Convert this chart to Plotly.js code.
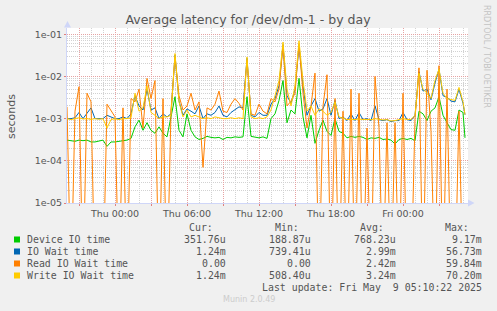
<!DOCTYPE html>
<html>
<head>
<meta charset="utf-8">
<script src="https://cdn.plot.ly/plotly-3.0.1.min.js"></script>
<style>
  html, body { margin: 0; padding: 0; background: #F0F0F0; }
  #chart { width: 497px; height: 311px; }
</style>
</head>
<body>
<div id="chart"></div>
<script>
// ---------------- DATA ----------------
// 20-minute samples from Wed 2025-05-07 20:00, plus the last sample at Fri 05:10
const sampleStart = '2025-05-07 20:00:00';
const sampleStepMinutes = 20;
const sampleCount = 100;
const lastSample = '2025-05-09 05:10:00';

const seriesNames = ['Device IO time', 'IO Wait time', 'Read IO Wait time', 'Write IO Wait time'];
const seriesColors = ['#00CC00', '#0066B3', '#FF8000', '#FFCC00'];

// seconds
const deviceIO = [
  3.1e-4, 3.0e-4, 2.9e-4, 3.1e-4, 3.0e-4, 3.1e-4, 2.8e-4, 2.8e-4, 2.9e-4, 3.1e-4,
  2.2e-4, 2.8e-4, 2.8e-4, 2.9e-4, 3.1e-4, 3.1e-4, 3.4e-4, 6.4e-4, 9.2e-4, 5.3e-4,
  8.0e-4, 5.3e-4, 4.5e-4, 6.4e-4, 4.5e-4, 3.7e-4, 1.1e-3, 3.3e-3, 5.3e-4, 3.7e-4,
  1.3e-3, 5.3e-4, 3.7e-4, 3.2e-4,
  3.4e-4, 3.8e-4, 3.6e-4, 3.5e-4, 3.6e-4, 3.2e-4,
  3.6e-4, 3.5e-4, 3.7e-4, 3.6e-4, 3.7e-4, 3.3e-3, 3.8e-4, 3.6e-4, 3.5e-4, 3.7e-4,
  3.4e-4, 1.0e-3, 1.3e-3, 2.7e-3, 8.0e-3, 8.0e-4, 1.6e-3, 1.3e-3, 9.0e-3, 1.1e-3,
  3.5e-4, 1.2e-3, 2.6e-4, 5.3e-4, 9.2e-4, 5.0e-4, 4.0e-4,
  1.0e-3, 5.0e-4, 4.5e-4, 3.5e-4, 3.8e-4, 3.6e-4, 3.8e-4, 3.6e-4, 3.2e-4, 3.5e-4,
  3.4e-4, 3.6e-4, 3.2e-4, 3.3e-4, 3.1e-4, 2.5e-4, 3.2e-4, 3.4e-4, 3.2e-4, 3.4e-4,
  3.0e-4, 1.5e-3, 1.3e-3, 9.0e-4, 1.5e-3, 1.8e-3, 3.3e-3, 1.2e-3, 8.0e-4, 5.5e-4,
  5.3e-4, 1.6e-3, 1.4e-3, 3.5e-4
];
const ioWait = [
  1.0e-3, 1.0e-3, 1.05e-3, 1.4e-3, 1.0e-3, 1.3e-3, 1.8e-3, 1.0e-3, 9.8e-4, 1.0e-3,
  1.2e-3, 1.1e-3, 1.0e-3, 1.0e-3, 1.1e-3, 1.0e-3, 1.3e-3, 3.5e-3, 2.0e-3, 1.6e-3,
  5.0e-3, 1.6e-3, 1.8e-3, 1.0e-3, 1.3e-3, 1.1e-3, 1.3e-3, 3.2e-2, 2.6e-3, 1.2e-3,
  1.7e-3, 1.5e-3, 1.3e-3, 2.0e-3,
  1.0e-3, 1.3e-3, 1.2e-3, 1.4e-3, 2.0e-3, 1.2e-3,
  1.1e-3, 1.4e-3, 1.6e-3, 1.9e-3, 1.8e-3, 2.7e-2, 1.2e-3, 1.1e-3, 1.4e-3, 1.2e-3,
  1.2e-3, 2.2e-3, 3.0e-3, 6.0e-3, 5.67e-2, 3.5e-3, 2.3e-3, 5.0e-3, 5.5e-2, 6.0e-3,
  1.2e-3, 2.0e-3, 3.0e-3, 1.5e-3, 1.7e-3, 3.0e-3, 1.2e-3,
  2.7e-3, 1.0e-3, 1.1e-3, 9.0e-4, 1.3e-3, 9.0e-4, 1.4e-3, 9.5e-4, 1.0e-3, 9.0e-4,
  2.0e-3, 9.5e-4, 9.0e-4, 9.5e-4, 8.5e-4, 9.0e-4, 9.0e-4, 1.4e-3, 9.5e-4, 9.0e-4,
  1.2e-3, 1.3e-2, 4.5e-3, 5.0e-3, 2.8e-3, 7.0e-3, 1.5e-2, 3.5e-3, 3.2e-3, 2.6e-3,
  2.5e-3, 5.0e-3, 2.3e-3, 1.24e-3
];
const readWait = [
  1.9e-3, 0, 1.5e-3, 5.7e-3, 0, 4.0e-3, 2.5e-3, 0, 0, 0,
  2.2e-3, 1.5e-3, 1.1e-3, 0, 1.8e-3, 0, 3.0e-3, 2.5e-3, 5.0e-3, 6.0e-4,
  9.0e-3, 3.0e-3, 8.0e-3, 0, 3.0e-3, 0, 1.6e-3, 3.0e-2, 3.5e-3, 1.6e-3,
  2.0e-3, 4.0e-3, 1.6e-3, 2.5e-3,
  7.0e-5, 1.8e-3, 1.6e-3, 2.2e-3, 4.5e-3, 1.5e-3,
  1.4e-3, 2.2e-3, 3.0e-3, 2.3e-3, 1.6e-3, 2.5e-2, 1.3e-3, 1.2e-3, 2.2e-3, 1.5e-3,
  1.3e-3, 3.0e-3, 2.5e-3, 5.0e-3, 5.5e-2, 2.0e-3, 2.6e-3, 4.0e-3, 5.98e-2, 4.0e-3,
  6.0e-4, 2.0e-3, 1.2e-2, 0, 2.0e-3, 1.1e-2, 0,
  3.0e-3, 0, 1.5e-3, 0, 5.0e-3, 0, 4.0e-3, 0, 6.0e-4, 0,
  1.0e-2, 6.0e-4, 0, 8.0e-4, 0, 8.0e-4, 0, 4.0e-3, 0, 0,
  1.0e-3, 1.6e-2, 0, 1.4e-2, 5.0e-4, 0, 1.8e-2, 0, 5.0e-3, 0,
  0, 1.5e-3, 0, 0
];
const writeWait = [
  1.0e-3, 9.5e-4, 1.0e-3, 1.05e-3, 9.8e-4, 1.0e-3, 9.6e-4, 1.0e-3, 9.7e-4, 1.0e-3,
  6.0e-4, 9.5e-4, 1.0e-3, 9.5e-4, 1.0e-3, 1.0e-3, 1.05e-3, 4.0e-3, 1.5e-3, 1.8e-3,
  6.0e-3, 1.4e-3, 1.2e-3, 1.0e-3, 1.1e-3, 1.1e-3, 1.2e-3, 3.5e-2, 2.5e-3, 1.1e-3,
  1.6e-3, 1.1e-3, 1.2e-3, 1.1e-3,
  1.0e-3, 1.05e-3, 1.0e-3, 1.1e-3, 1.05e-3, 1.0e-3,
  1.0e-3, 1.05e-3, 1.0e-3, 1.05e-3, 1.0e-3, 2.9e-2, 1.1e-3, 1.0e-3, 1.05e-3, 1.0e-3,
  1.1e-3, 1.6e-3, 3.5e-3, 8.0e-3, 6.5e-2, 5.0e-3, 2.0e-3, 6.0e-3, 7.02e-2, 8.0e-3,
  1.5e-3, 2.0e-3, 1.2e-3, 1.7e-3, 1.5e-3, 1.2e-3, 1.4e-3,
  2.5e-3, 1.1e-3, 1.0e-3, 9.5e-4, 9.6e-4, 9.5e-4, 9.8e-4, 9.5e-4, 9.6e-4, 9.4e-4,
  1.0e-3, 9.5e-4, 9.3e-4, 9.5e-4, 8.8e-4, 9.0e-4, 9.5e-4, 1.0e-3, 9.6e-4, 9.5e-4,
  1.2e-3, 1.2e-2, 5.0e-3, 4.0e-3, 3.0e-3, 8.0e-3, 1.5e-2, 4.0e-3, 3.0e-3, 2.8e-3,
  2.7e-3, 5.5e-3, 2.5e-3, 1.24e-3
];

// legend statistics (as printed)
const statCur = ['351.76u', '1.24m', '0.00', '1.24m'];
const statMin = ['188.87u', '739.41u', '0.00', '508.40u'];
const statAvg = ['768.23u', '2.99m', '2.42m', '3.24m'];
const statMax = ['9.17m', '56.73m', '59.84m', '70.20m'];

// axis ticks
const xTickTimes = ['2025-05-07 21:00:00', '2025-05-08 00:00:00', '2025-05-08 03:00:00',
  '2025-05-08 06:00:00', '2025-05-08 09:00:00', '2025-05-08 12:00:00', '2025-05-08 15:00:00',
  '2025-05-08 18:00:00', '2025-05-08 21:00:00', '2025-05-09 00:00:00', '2025-05-09 03:00:00'];
const xTickLabels = ['', 'Thu 00:00', '', 'Thu 06:00', '', 'Thu 12:00', '', 'Thu 18:00', '', 'Fri 00:00', ''];
const yTickValues = [1e-5, 1e-4, 1e-3, 1e-2, 1e-1];
const yTickLabels = ['1e-05', '1e-04', '1e-03', '1e-02', '1e-01'];
const xRange = ['2025-05-07 20:00:00', '2025-05-09 05:25:00'];

// ---------------- BUILD ----------------
function toMs(str) {
  const [d, t] = str.split(' ');
  const [Y, M, D] = d.split('-').map(Number);
  const [h, m, s] = t.split(':').map(Number);
  return Date.UTC(Y, M - 1, D, h, m, s || 0);
}
const t0 = toMs(sampleStart);
const times = [];
for (let i = 0; i < sampleCount; i++) times.push(t0 + i * sampleStepMinutes * 60000);
times.push(toMs(lastSample));

// zero values are drawn below the axis floor (as rrdtool does on a log scale)
const floorLog = v => (v > 0 ? v : 1e-7);

const seriesData = [deviceIO, ioWait, readWait, writeWait];
const traces = seriesData.map((arr, k) => ({
  type: 'scatter', mode: 'lines', x: times, y: arr.map(floorLog),
  name: seriesNames[k], line: { color: seriesColors[k], width: 1 }, hoverinfo: 'skip'
}));

// pixel helpers for decorations (plot area: x 67..468, y 28..203)
const PL = 67, PR = 468, PT = 28, PB = 203;
const px = x => (x - PL) / (PR - PL);
const py = y => (PB - y) / (PB - PT);

const minorY = [];
for (let e = -5; e <= -2; e++) for (let m = 2; m <= 9; m++) minorY.push(m * Math.pow(10, e));

const fontTxt = '#555555';
const mono = 'DejaVu Sans Mono';
const ann = [];
function addText(text, x, y, anchor, opts) {
  ann.push(Object.assign({
    text: text, x: px(x), y: py(y), xref: 'paper', yref: 'paper',
    xanchor: anchor, yanchor: 'middle', showarrow: false, borderpad: 0,
    font: { family: mono, size: 9.9, color: fontTxt }
  }, opts || {}));
}
const rowY = [239.5, 251.5, 263.5, 275.5];
addText('Cur:', 213.5, 227.5, 'right');
addText('Min:', 299.5, 227.5, 'right');
addText('Avg:', 384.5, 227.5, 'right');
addText('Max:', 470.5, 227.5, 'right');
const shapes = [];
seriesNames.forEach((n, k) => {
  addText(n, 25.5, rowY[k], 'left');
  addText(statCur[k], 227, rowY[k], 'right');
  addText(statMin[k], 312, rowY[k], 'right');
  addText(statAvg[k], 397, rowY[k], 'right');
  addText(statMax[k], 483, rowY[k], 'right');
  shapes.push({ type: 'rect', xref: 'paper', yref: 'paper', x0: px(14), x1: px(20),
    y0: py(rowY[k] + 3), y1: py(rowY[k] - 3), fillcolor: seriesColors[k], line: { width: 0 } });
});
addText('Last update: Fri May\u00a0 9 05:10:22 2025', 483, 287.5, 'right');
addText('Munin 2.0.49', 248.5, 299.5, 'center', { font: { family: 'DejaVu Sans', size: 8, color: '#cccccc' } });
addText('seconds', 11.5, 116.5, 'center', { textangle: -90, font: { family: 'DejaVu Sans', size: 11, color: fontTxt } });
addText('RRDTOOL / TOBI OETIKER', 487, 56, 'center', { textangle: 90, font: { family: 'DejaVu Sans', size: 8, color: '#c4c4c4' } });

const axisCol = '#CFD6F8';
// axis arrows
shapes.push({ type: 'path', xref: 'paper', yref: 'paper', fillcolor: axisCol, line: { width: 0 },
  path: `M ${px(64)} ${py(27.5)} L ${px(67.5)} ${py(21)} L ${px(71)} ${py(27.5)} Z` });
shapes.push({ type: 'path', xref: 'paper', yref: 'paper', fillcolor: axisCol, line: { width: 0 },
  path: `M ${px(468)} ${py(199.5)} L ${px(474.5)} ${py(203)} L ${px(468)} ${py(206.5)} Z` });

const majorGrid = '#E6A3A3', minorGrid = '#D2D2D2', dots = '1px,1px';

const layout = {
  width: 497, height: 311,
  paper_bgcolor: '#F0F0F0', plot_bgcolor: '#FFFFFF',
  margin: { l: PL, r: 497 - PR, t: PT, b: 311 - PB, pad: 0 },
  showlegend: false, hovermode: false,
  title: { text: 'Average latency for /dev/dm-1 - by day', xref: 'container', yref: 'container',
    x: 248 / 497, xanchor: 'center', y: 1 - 20 / 311, yanchor: 'middle',
    font: { family: 'DejaVu Sans', size: 12.5, color: fontTxt } },
  xaxis: {
    type: 'date', range: xRange.map(toMs), fixedrange: true,
    tickmode: 'array', tickvals: xTickTimes.map(toMs), ticktext: xTickLabels,
    ticks: 'outside', ticklen: 2, tickcolor: '#E08080', tickwidth: 1,
    tickfont: { family: 'DejaVu Sans', size: 9.5, color: fontTxt },
    showgrid: true, gridcolor: majorGrid, griddash: dots, gridwidth: 1,
    minor: { tickmode: 'linear', tick0: t0, dtick: 3600000, showgrid: true,
      gridcolor: minorGrid, griddash: dots, gridwidth: 1, ticks: '' },
    showline: true, linecolor: axisCol, linewidth: 1, zeroline: false
  },
  yaxis: {
    type: 'log', range: [-5, -0.851], fixedrange: true,
    tickmode: 'array', tickvals: yTickValues, ticktext: yTickLabels,
    ticks: 'outside', ticklen: 2, tickcolor: '#E08080', tickwidth: 1,
    tickfont: { family: 'DejaVu Sans', size: 9.5, color: fontTxt },
    showgrid: true, gridcolor: majorGrid, griddash: dots, gridwidth: 1,
    minor: { tickmode: 'array', tickvals: minorY, showgrid: true,
      gridcolor: minorGrid, griddash: dots, gridwidth: 1, ticks: '' },
    showline: true, linecolor: axisCol, linewidth: 1, zeroline: false
  },
  annotations: ann,
  shapes: shapes
};

Plotly.newPlot('chart', traces, layout, { staticPlot: true, displayModeBar: false });
</script>
</body>
</html>
